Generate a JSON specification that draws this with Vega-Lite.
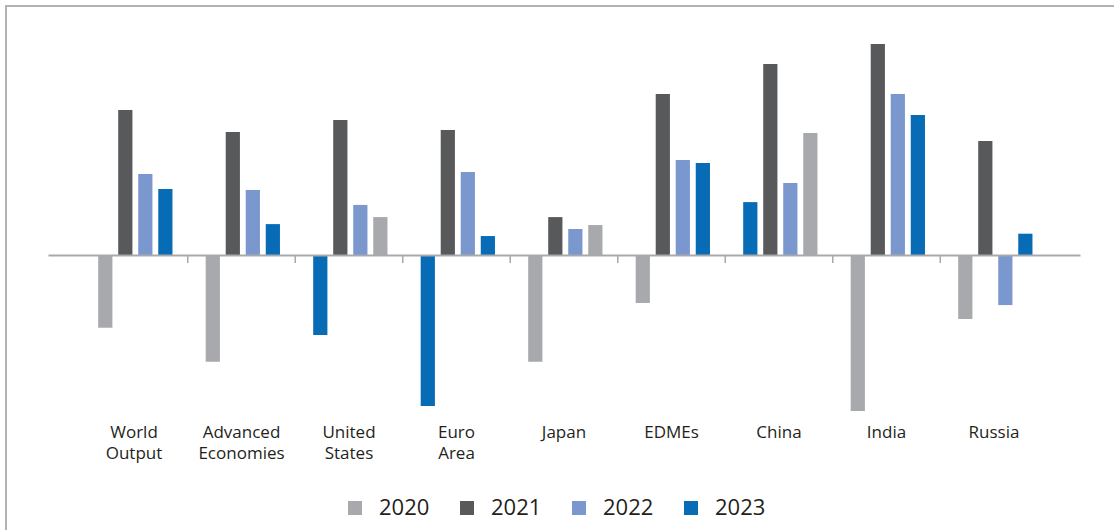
{
  "$schema": "https://vega.github.io/schema/vega-lite/v6.json",
  "autosize": "none",
  "width": 1110,
  "height": 526,
  "padding": {"left": 6, "top": 6, "right": -2, "bottom": -2},
  "background": "white",
  "config": {
    "view": {"stroke": "#b3b3b3", "strokeWidth": 2},
    "font": "Open Sans"
  },
  "resolve": {"axis": {"x": "independent"}},
  "layer": [
    {
      "data": {
        "values": [
          {"region": "World Output", "slot": 1, "series": "2020", "value": -3.11},
          {"region": "World Output", "slot": 2, "series": "2021", "value": 6.2},
          {"region": "World Output", "slot": 3, "series": "2022", "value": 3.46},
          {"region": "World Output", "slot": 4, "series": "2023", "value": 2.82},
          {"region": "Advanced Economies", "slot": 1, "series": "2020", "value": -4.56},
          {"region": "Advanced Economies", "slot": 2, "series": "2021", "value": 5.26},
          {"region": "Advanced Economies", "slot": 3, "series": "2022", "value": 2.78},
          {"region": "Advanced Economies", "slot": 4, "series": "2023", "value": 1.32},
          {"region": "United States", "slot": 1, "series": "2023", "value": -3.42},
          {"region": "United States", "slot": 2, "series": "2021", "value": 5.77},
          {"region": "United States", "slot": 3, "series": "2022", "value": 2.14},
          {"region": "United States", "slot": 4, "series": "2020", "value": 1.62},
          {"region": "Euro Area", "slot": 1, "series": "2023", "value": -6.45},
          {"region": "Euro Area", "slot": 2, "series": "2021", "value": 5.34},
          {"region": "Euro Area", "slot": 3, "series": "2022", "value": 3.55},
          {"region": "Euro Area", "slot": 4, "series": "2023", "value": 0.81},
          {"region": "Japan", "slot": 1, "series": "2020", "value": -4.56},
          {"region": "Japan", "slot": 2, "series": "2021", "value": 1.62},
          {"region": "Japan", "slot": 3, "series": "2022", "value": 1.11},
          {"region": "Japan", "slot": 4, "series": "2020", "value": 1.28},
          {"region": "EDMEs", "slot": 1, "series": "2020", "value": -2.05},
          {"region": "EDMEs", "slot": 2, "series": "2021", "value": 6.88},
          {"region": "EDMEs", "slot": 3, "series": "2022", "value": 4.06},
          {"region": "EDMEs", "slot": 4, "series": "2023", "value": 3.93},
          {"region": "China", "slot": 1, "series": "2023", "value": 2.26},
          {"region": "China", "slot": 2, "series": "2021", "value": 8.16},
          {"region": "China", "slot": 3, "series": "2022", "value": 3.08},
          {"region": "China", "slot": 4, "series": "2020", "value": 5.21},
          {"region": "India", "slot": 1, "series": "2020", "value": -6.67},
          {"region": "India", "slot": 2, "series": "2021", "value": 9.02},
          {"region": "India", "slot": 3, "series": "2022", "value": 6.88},
          {"region": "India", "slot": 4, "series": "2023", "value": 5.98},
          {"region": "Russia", "slot": 1, "series": "2020", "value": -2.74},
          {"region": "Russia", "slot": 2, "series": "2021", "value": 4.87},
          {"region": "Russia", "slot": 3, "series": "2022", "value": -2.14},
          {"region": "Russia", "slot": 4, "series": "2023", "value": 0.91}
        ]
      },
      "mark": {"type": "bar"},
      "encoding": {
        "x": {
          "field": "region",
          "type": "nominal",
          "sort": null,
          "scale": {
            "domain": ["World Output", "Advanced Economies", "United States", "Euro Area", "Japan", "EDMEs", "China", "India", "Russia"],
            "range": [42, 1074],
            "paddingInner": 0,
            "paddingOuter": 0.3
          },
          "axis": {
            "orient": "bottom",
            "offset": -108,
            "title": null,
            "domain": false,
            "ticks": false,
            "grid": false,
            "labelAngle": 0,
            "labelPadding": 0,
            "labelFont": "Open Sans",
            "labelFontSize": 17,
            "labelLineHeight": 21,
            "labelColor": "#231f20",
            "labelExpr": "split(datum.label, ' ')"
          }
        },
        "xOffset": {
          "field": "slot",
          "type": "ordinal",
          "scale": {"paddingInner": 0.29, "paddingOuter": 0.83, "align": 0.54}
        },
        "y": {
          "field": "value",
          "type": "quantitative",
          "scale": {"domain": [-11.838, 10.641], "nice": false, "zero": false},
          "axis": null
        },
        "color": {
          "field": "series",
          "type": "nominal",
          "scale": {
            "domain": ["2020", "2021", "2022", "2023"],
            "range": ["#a7a9ac", "#58595b", "#7b98ce", "#076cb5"]
          },
          "legend": {
            "orient": "none",
            "legendX": 338,
            "legendY": 491,
            "direction": "horizontal",
            "title": null,
            "symbolType": "square",
            "symbolSize": 196,
            "symbolStrokeWidth": 0,
            "symbolOpacity": 1,
            "labelFont": "Open Sans",
            "labelFontSize": 22,
            "labelColor": "#231f20",
            "labelOffset": 13,
            "columnPadding": 26,
            "padding": 0
          }
        }
      }
    },
    {
      "data": {
        "values": [
          {"region": "Advanced Economies"},
          {"region": "United States"},
          {"region": "Euro Area"},
          {"region": "Japan"},
          {"region": "EDMEs"},
          {"region": "China"},
          {"region": "India"},
          {"region": "Russia"}
        ]
      },
      "mark": {"type": "rule", "color": "#a7a9ac", "strokeWidth": 1.5},
      "encoding": {
        "x": {
          "field": "region",
          "type": "nominal",
          "sort": null,
          "bandPosition": 0,
          "scale": {
            "domain": ["World Output", "Advanced Economies", "United States", "Euro Area", "Japan", "EDMEs", "China", "India", "Russia"],
            "range": [42, 1074],
            "paddingInner": 0,
            "paddingOuter": 0.3
          },
          "axis": {
            "orient": "bottom",
            "offset": -277,
            "title": null,
            "domain": true,
            "domainColor": "#a7a9ac",
            "domainWidth": 2,
            "ticks": false,
            "labels": false,
            "grid": false,
            "zindex": 1
          }
        },
        "y": {"datum": 0, "type": "quantitative"},
        "y2": {"datum": -0.342}
      }
    }
  ]
}
